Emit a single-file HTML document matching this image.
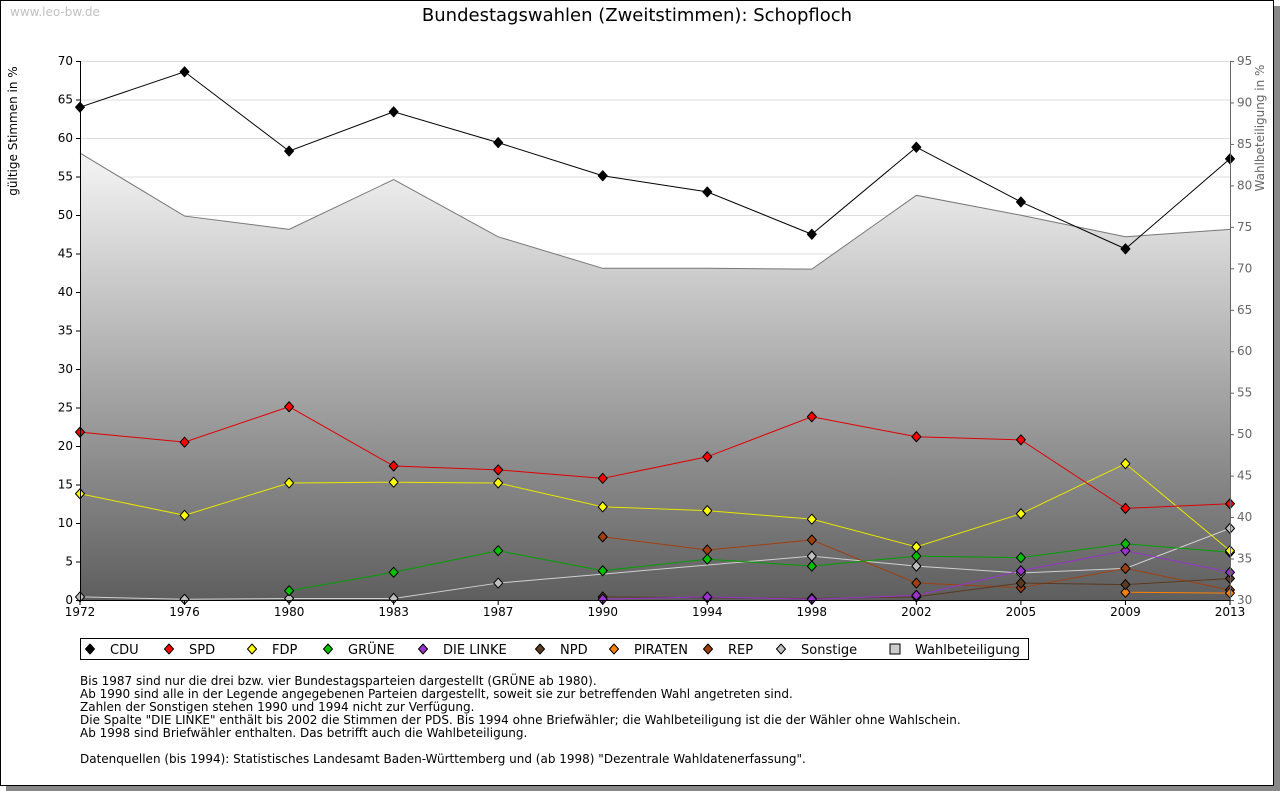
<!DOCTYPE html>
<html><head><meta charset="utf-8"><style>
body{margin:0;background:#fff;font-family:"DejaVu Sans","Liberation Sans",sans-serif;}
#frame{position:absolute;left:0;top:0;width:1272px;height:784px;border:1px solid #000;box-shadow:6px 6px 0 #888;background:#fff;}
</style></head><body>
<div id="frame"></div>
<svg id="c" width="1280" height="791" style="position:absolute;left:0;top:0">
<defs><linearGradient id="g" gradientUnits="userSpaceOnUse" x1="0" y1="61" x2="0" y2="600"><stop offset="0" stop-color="#ffffff"/><stop offset="0.2" stop-color="#f0f0f0"/><stop offset="1" stop-color="#5e5e5e"/></linearGradient></defs>
<text x="10" y="16" font-size="12" fill="#c0c0c0">www.leo-bw.de</text>
<text x="637" y="21" font-size="18" text-anchor="middle">Bundestagswahlen (Zweitstimmen): Schopfloch</text>
<text transform="translate(17,131) rotate(-90)" font-size="12" text-anchor="middle">gültige Stimmen in %</text>
<text transform="translate(1264,128) rotate(-90)" font-size="12" fill="#666" text-anchor="middle">Wahlbeteiligung in %</text>
<g id="grid"></g><g id="area"></g><g id="lines"></g><g id="axes"></g>
<g>
<rect x="80.5" y="638.5" width="948" height="21" fill="#fff" stroke="#000"/>
<g id="leg"></g></g>
<g font-size="12">
<text x="80" y="685">Bis 1987 sind nur die drei bzw. vier Bundestagsparteien dargestellt (GRÜNE ab 1980).</text>
<text x="80" y="698">Ab 1990 sind alle in der Legende angegebenen Parteien dargestellt, soweit sie zur betreffenden Wahl angetreten sind.</text>
<text x="80" y="711">Zahlen der Sonstigen stehen 1990 und 1994 nicht zur Verfügung.</text>
<text x="80" y="724">Die Spalte "DIE LINKE" enthält bis 2002 die Stimmen der PDS. Bis 1994 ohne Briefwähler; die Wahlbeteiligung ist die der Wähler ohne Wahlschein.</text>
<text x="80" y="737">Ab 1998 sind Briefwähler enthalten. Das betrifft auch die Wahlbeteiligung.</text>
<text x="80" y="763">Datenquellen (bis 1994): Statistisches Landesamt Baden-Württemberg und (ab 1998) "Dezentrale Wahldatenerfassung".</text>
</g>
</svg>
<script>
const years=["1972","1976","1980","1983","1987","1990","1994","1998","2002","2005","2009","2013"];
const cdu=[64.0,68.6,58.3,63.4,59.4,55.1,53.0,47.5,58.8,51.7,45.6,57.3];
const spd=[21.8,20.5,25.1,17.4,16.9,15.8,18.6,23.8,21.2,20.8,11.9,12.5];
const fdp=[13.8,11.0,15.2,15.3,15.2,12.1,11.6,10.5,6.9,11.2,17.7,6.4];
const gruene=[null,null,1.2,3.6,6.4,3.8,5.3,4.4,5.7,5.5,7.3,6.2];
const linke=[null,null,null,null,null,0.1,0.4,0.1,0.6,3.8,6.4,3.6];
const npd=[null,null,null,null,null,0.4,0.3,0.2,0.4,2.2,2.0,2.8];
const piraten=[null,null,null,null,null,null,null,null,null,null,1.0,0.9];
const rep=[null,null,null,null,null,8.2,6.5,7.8,2.2,1.6,4.1,1.3];
const sonst=[0.4,0.1,0.2,0.2,2.2,null,null,5.7,4.4,3.5,4.1,9.3];
const turnout=[83.9,76.3,74.7,80.7,73.8,70.0,70.0,69.9,78.8,76.4,73.8,74.7];
const leftTicks=[0,5,10,15,20,25,30,35,40,45,50,55,60,65,70];
const rightTicks=[30,35,40,45,50,55,60,65,70,75,80,85,90,95];
const L=80,R=1230,T=61,B=600,NS="http://www.w3.org/2000/svg";
const x=i=>L+i*(R-L)/(years.length-1);
const y=v=>B-(v/70)*(B-T);
const y2=v=>B-((v-30)/65)*(B-T);
function mk(t,a,p){const e=document.createElementNS(NS,t);for(const k in a)e.setAttribute(k,a[k]);p.appendChild(e);return e;}
const G=document.getElementById('grid'),A=document.getElementById('area'),Ln=document.getElementById('lines'),X=document.getElementById('axes'),LG=document.getElementById('leg');
leftTicks.forEach(v=>{const l=mk('line',{x1:L,x2:R,y1:y(v)+.5,y2:y(v)+.5,stroke:'#ddd'},G);

const t=mk('text',{x:L-7,y:y(v)+4,'font-size':12,'text-anchor':'end'},X);t.textContent=v;

mk('line',{x1:L-4,x2:L,y1:y(v)+.5,y2:y(v)+.5,stroke:'#000'},X);});
rightTicks.forEach(v=>{const t=mk('text',{x:R+7,y:y2(v)+4,'font-size':12,fill:'#666'},X);t.textContent=v;

mk('line',{x1:R,x2:R+4,y1:y2(v)+.5,y2:y2(v)+.5,stroke:'#666'},X);});
let d='M'+L+','+B;turnout.forEach((v,i)=>d+=' L'+x(i)+','+y2(v));d+=' L'+R+','+B+' Z';
const ar=mk('path',{d:d,fill:'url(#g)'},A);
const tl=mk('polyline',{points:turnout.map((v,i)=>x(i)+','+y2(v)).join(' '),fill:'none',stroke:'#777'},A);

mk('line',{x1:L+.5,x2:L+.5,y1:T,y2:B,stroke:'#000'},X);
mk('line',{x1:R+.5,x2:R+.5,y1:T,y2:B,stroke:'#666'},X);
mk('line',{x1:L,x2:R,y1:B+.5,y2:B+.5,stroke:'#000'},X);
years.forEach((yr,i)=>{mk('line',{x1:x(i),x2:x(i),y1:B,y2:B+5,stroke:'#000'},X);
const t=mk('text',{x:x(i),y:B+16,'font-size':12,'text-anchor':'middle'},X);t.textContent=yr;
});
const series=[["CDU",cdu,"#000","#000"],["SPD",spd,"#ff0000","#e00000"],["FDP",fdp,"#ffff00","#e8e800"],["GRÜNE",gruene,"#00c000","#00a000"],["DIE LINKE",linke,"#9933cc","#9933cc"],["NPD",npd,"#5a3a20","#5a3a20"],["PIRATEN",piraten,"#ff8000","#ff8000"],["REP",rep,"#a04010","#a04010"],["Sonstige",sonst,"#c0c0c0","#d0d0d0"]];
function dia(cx,cy,f,p){const e=mk('path',{d:`M${cx},${cy-5}L${cx+4.5},${cy}L${cx},${cy+5}L${cx-4.5},${cy}Z`,fill:f,stroke:'#000','stroke-width':1,'stroke-linejoin':'round'},p);return e;}
series.slice().reverse().forEach(s=>{const g=mk('g',{},Ln);
const pts=[];s[1].forEach((v,i)=>{if(v!==null)pts.push(x(i)+','+y(v));});
mk('polyline',{points:pts.join(' '),fill:'none',stroke:s[3]},g);
s[1].forEach((v,i)=>{if(v!==null){const m=dia(x(i),y(v),s[2],g);}});});
const legX=[90,169,252,328,423,540,614,708,781,895];
series.concat([["Wahlbeteiligung",null,"#ccc"]]).forEach((s,i)=>{
let m;if(s[1]===null){m=mk('rect',{x:legX[i]-5,y:644,width:10,height:10,fill:'#ccc',stroke:'#000'},LG);}else m=dia(legX[i],649,s[2],LG);

const t=mk('text',{x:legX[i]+20,y:654,'font-size':13},LG);t.textContent=s[0];
});
</script>
</body></html>
